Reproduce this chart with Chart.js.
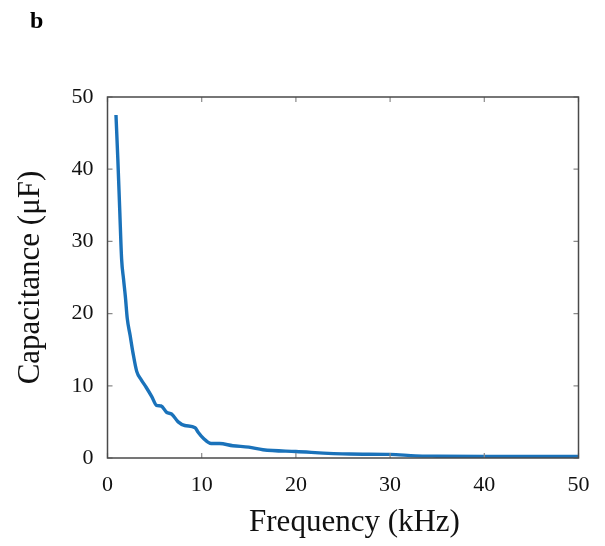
<!DOCTYPE html>
<html>
<head>
<meta charset="utf-8">
<script src="https://cdn.jsdelivr.net/npm/chart.js@4/dist/chart.umd.min.js"></script>
<style>
html,body{margin:0;padding:0;background:#fff;}
#wrap{width:605px;height:546px;}
</style>
</head>
<body>
<div id="wrap"><canvas id="c" width="605" height="546"></canvas></div>
<script>
const frequency = [0.9, 1.1, 1.3, 1.5, 1.7, 1.9, 2.1, 2.4, 2.7, 3.1, 3.6, 4.1, 4.7, 5.2, 5.7, 6.3, 6.8, 7.5, 8.2, 9.3, 9.6, 10.2, 11.0, 11.9, 13.3, 15.0, 16.5, 20, 25.7, 30, 32.7, 35, 40, 45, 50];
const capacitance = [47.5, 41.3, 34.3, 27.5, 24.8, 22.3, 19.3, 17.0, 14.6, 12.0, 10.8, 9.8, 8.5, 7.3, 7.2, 6.3, 6.1, 5.0, 4.5, 4.2, 3.6, 2.7, 2.0, 2.0, 1.7, 1.5, 1.15, 0.9, 0.55, 0.5, 0.3, 0.25, 0.2, 0.2, 0.2];
const xTicks = [0, 10, 20, 30, 40, 50];
const yTicks = [0, 10, 20, 30, 40, 50];
const panelLabel = 'b';
const xTitle = 'Frequency (kHz)';
const yTitle = 'Capacitance (\u03bcF)';

const points = frequency.map((f, i) => ({x: f, y: capacitance[i]}));
const serif = '"Liberation Serif", "Times New Roman", serif';

const framePlugin = {
  id: 'frame',
  afterDraw(chart) {
    const {ctx, chartArea: a, scales: {x, y}} = chart;
    ctx.save();
    ctx.strokeStyle = '#8a8a8a';
    ctx.lineWidth = 1.2;
    const L = 5;
    ctx.beginPath();
    xTicks.forEach(v => {
      const px = x.getPixelForValue(v);
      ctx.moveTo(px, a.bottom); ctx.lineTo(px, a.bottom - L);
      ctx.moveTo(px, a.top); ctx.lineTo(px, a.top + L);
    });
    yTicks.forEach(v => {
      const py = y.getPixelForValue(v);
      ctx.moveTo(a.left, py); ctx.lineTo(a.left + L, py);
      ctx.moveTo(a.right, py); ctx.lineTo(a.right - L, py);
    });
    ctx.stroke();
    ctx.strokeStyle = '#4a4a4a';
    ctx.lineWidth = 1.5;
    ctx.strokeRect(a.left, a.top, a.right - a.left, a.bottom - a.top);
    ctx.fillStyle = '#000';
    ctx.font = 'bold 24px ' + serif;
    ctx.textBaseline = 'alphabetic';
    ctx.textAlign = 'left';
    ctx.fillText(panelLabel, 30, 28);
    ctx.fillStyle = '#111';
    ctx.font = '31px ' + serif;
    ctx.textAlign = 'center';
    ctx.fillText(xTitle, 354.5, 531);
    ctx.restore();
  }
};

new Chart(document.getElementById('c'), {
  type: 'line',
  data: {
    datasets: [{
      data: points,
      borderColor: '#1a72ba',
      borderWidth: 3.4,
      pointRadius: 0,
      fill: false,
      cubicInterpolationMode: 'monotone'
    }]
  },
  options: {
    responsive: false,
    animation: false,
    devicePixelRatio: 1,
    layout: {padding: {top: 97, right: 26.5, left: 0, bottom: 0}},
    plugins: {legend: {display: false}, tooltip: {enabled: false}},
    scales: {
      x: {
        type: 'linear', min: 0, max: 50,
        afterBuildTicks: s => { s.ticks = xTicks.map(v => ({value: v})); },
        afterFit: s => { s.height = 88; },
        grid: {display: false, drawTicks: false},
        border: {display: false},
        ticks: {color: '#111', font: {family: serif, size: 22}, padding: 14, maxRotation: 0},
        title: {display: false, text: xTitle}
      },
      y: {
        type: 'linear', min: 0, max: 50,
        afterBuildTicks: s => { s.ticks = yTicks.map(v => ({value: v})); },
        afterFit: s => { s.width = 107.5; },
        grid: {display: false, drawTicks: false},
        border: {display: false},
        ticks: {color: '#111', font: {family: serif, size: 22}, padding: 14},
        title: {display: true, text: yTitle, color: '#111', font: {family: serif, size: 31}, padding: {top: 12, bottom: 0}}
      }
    }
  },
  plugins: [framePlugin]
});
</script>
</body>
</html>
